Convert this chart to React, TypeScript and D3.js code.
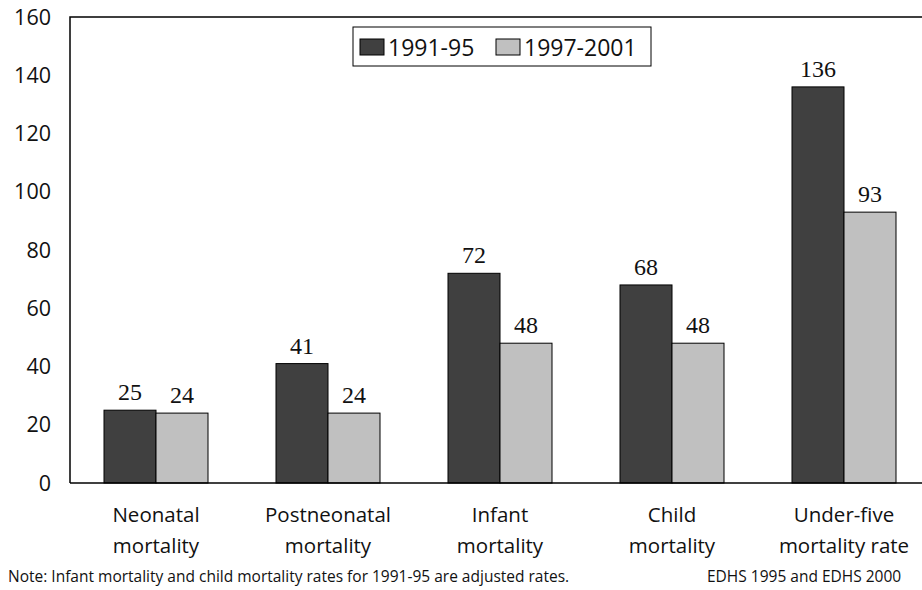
import React, { useEffect, useRef } from 'react';
import { select, scaleBand, scaleLinear } from 'd3';

const categories = [
  ['Neonatal', 'mortality'],
  ['Postneonatal', 'mortality'],
  ['Infant', 'mortality'],
  ['Child', 'mortality'],
  ['Under-five', 'mortality rate'],
];
const seriesNames = ['1991-95', '1997-2001'];
const values1991 = [25, 41, 72, 68, 136];
const values1997 = [24, 24, 48, 48, 93];
const yTicks = [0, 20, 40, 60, 80, 100, 120, 140, 160];

const W = 922;
const H = 590;
const sans = "'Open Sans', Lato, sans-serif";
const serif = "'Liberation Serif', 'DejaVu Serif', serif";
const colors = ['#404040', '#c0c0c0'];

export default function App() {
  const svgRef = useRef<SVGSVGElement>(null);

  useEffect(() => {
    if (!svgRef.current) return;
    const svg = select(svgRef.current);
    svg.selectAll('*').remove();

    const left = 70, top = 17, bottom = 483, right = 930;
    const x = scaleBand<number>().domain(categories.map((_, i) => i)).range([left, right]);
    const y = scaleLinear().domain([0, 160]).range([bottom, top]);
    const barW = 52;

    svg.append('rect').attr('width', W).attr('height', H).attr('fill', '#fff');

    // frame
    svg.append('path')
      .attr('d', `M${left},${bottom}V${top}H${right}`)
      .attr('fill', 'none').attr('stroke', '#000').attr('stroke-width', 1.5);

    svg.selectAll('.ytick').data(yTicks).enter().append('text')
      .attr('x', 51).attr('y', d => y(d)).attr('dy', '0.36em')
      .attr('text-anchor', 'end').attr('font-family', sans).attr('font-size', 21.5)
      .attr('fill', '#111').text(d => d);

    const series = [values1991, values1997];
    series.forEach((vals, s) => {
      const g = svg.append('g');
      vals.forEach((v, i) => {
        const cx = x(i)! + x.bandwidth() / 2;
        const bx = s === 0 ? cx - barW : cx;
        g.append('rect')
          .attr('x', bx).attr('y', y(v)).attr('width', barW).attr('height', y(0) - y(v))
          .attr('fill', colors[s]).attr('stroke', '#000').attr('stroke-width', 1);
        g.append('text')
          .attr('x', bx + barW / 2).attr('y', y(v) - 10)
          .attr('text-anchor', 'middle').attr('font-family', serif).attr('font-size', 24)
          .attr('fill', '#111').text(v);
      });
    });

    // x-axis line on top of bars
    svg.append('line').attr('x1', left).attr('x2', right).attr('y1', bottom).attr('y2', bottom)
      .attr('stroke', '#000').attr('stroke-width', 1.5);

    categories.forEach((lines, i) => {
      const cx = x(i)! + x.bandwidth() / 2;
      lines.forEach((t, j) => {
        svg.append('text')
          .attr('x', cx).attr('y', 522 + j * 31).attr('text-anchor', 'middle')
          .attr('font-family', sans).attr('font-size', 20.5).attr('fill', '#111').text(t);
      });
    });

    // legend
    const lg = svg.append('g');
    lg.append('rect').attr('x', 353).attr('y', 27).attr('width', 298).attr('height', 39)
      .attr('fill', '#fff').attr('stroke', '#000').attr('stroke-width', 1);
    const legendX = [360, 496];
    seriesNames.forEach((name, s) => {
      lg.append('rect').attr('x', legendX[s]).attr('y', 39).attr('width', 24).attr('height', 16)
        .attr('fill', colors[s]).attr('stroke', '#000').attr('stroke-width', 1);
      lg.append('text').attr('x', legendX[s] + 28).attr('y', 56)
        .attr('font-family', sans).attr('font-size', 23).attr('fill', '#111').text(name);
    });

    svg.append('text').attr('x', 8).attr('y', 582).attr('font-family', sans).attr('font-size', 15.5)
      .attr('fill', '#111')
      .text('Note: Infant mortality and child mortality rates for 1991-95 are adjusted rates.');
    svg.append('text').attr('x', 707).attr('y', 582).attr('font-family', sans).attr('font-size', 15.5)
      .attr('fill', '#111').text('EDHS 1995 and EDHS 2000');
  }, []);

  return (
    <svg ref={svgRef} width={W} height={H} viewBox={`0 0 ${W} ${H}`}
      style={{ position: 'absolute', left: 0, top: 0, display: 'block' }} />
  );
}
